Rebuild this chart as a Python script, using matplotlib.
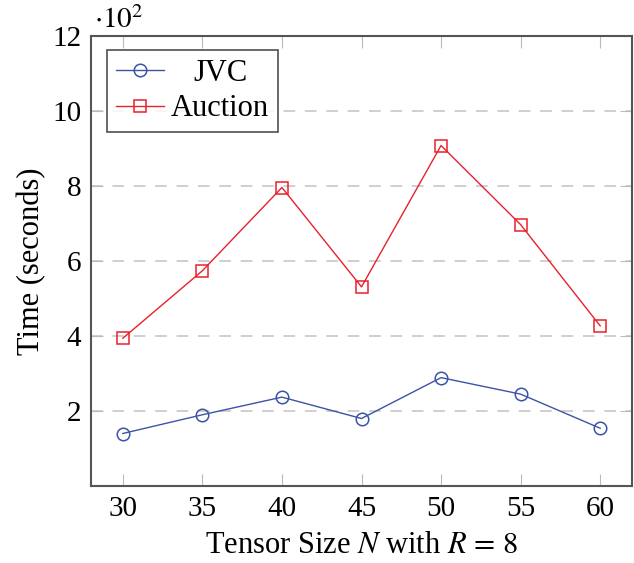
import matplotlib
matplotlib.use("Agg")
import matplotlib.pyplot as plt

plt.rcParams["font.family"] = ["Liberation Serif", "DejaVu Serif"]
plt.rcParams["mathtext.fontset"] = "stix"

# timing results, in hundreds of seconds
sizes = [30, 35, 40, 45, 50, 55, 60]
jvc = [1.40, 1.90, 2.37, 1.80, 2.89, 2.45, 1.54]
auction = [3.94, 5.74, 7.96, 5.31, 9.08, 6.97, 4.27]

blue = "#3b54a5"
red = "#e8212b"
axis_grey = "#555555"
fs = 22

fig = plt.figure(figsize=(6.34, 5.63), dpi=100)
ax = fig.add_axes([91 / 634, 1 - 486 / 563, (632 - 91) / 634, (486 - 36) / 563])

ax.plot(sizes, jvc, color=blue, lw=1.0, marker="o", ms=9,
        mfc="none", mec=blue, mew=1.1, label="JVC", zorder=3)
ax.plot(sizes, auction, color=red, lw=1.0, marker="s", ms=9,
        mfc="none", mec=red, mew=1.1, label="Auction", zorder=3)

ax.set_xlim(28, 62)
ax.set_ylim(0, 12)
ax.set_xticks(sizes)
ax.set_yticks([2, 4, 6, 8, 10, 12])

ax.yaxis.grid(True, ls=(0, (6, 5)), color="#cfcfcf", lw=1.4)
ax.set_axisbelow(True)

ax.tick_params(axis="both", direction="in", length=8.5, width=0.8,
               color="#bbbbbb", labelsize=21, top=True, right=True,
               pad=7)
for s in ax.spines.values():
    s.set_color(axis_grey)
    s.set_linewidth(1.5)

ax.text(0.005, 1.005, r"$\cdot 10^2$", transform=ax.transAxes,
        fontsize=21, ha="left", va="bottom")

ax.set_xlabel(r"Tensor Size $N$ with $R\, =\, 8$", fontsize=fs, labelpad=7)
ax.set_ylabel("Time (seconds)", fontsize=fs, labelpad=4)

leg = ax.legend(loc="upper left", fontsize=fs, frameon=True, fancybox=False,
                edgecolor="#222222", borderpad=0.28, handlelength=1.6,
                handletextpad=0.22, borderaxespad=0, labelspacing=0.22,
                bbox_to_anchor=(16 / 541, 1 - 14 / 450))
leg.get_frame().set_linewidth(1.2)

# centre the shorter legend entry in the text column
fig.canvas.draw()
r = fig.canvas.get_renderer()
widths = [t.get_window_extent(r).width for t in leg.texts]
leg.texts[0].set_x((max(widths) - widths[0]) / 2)

fig.savefig("out.png", dpi=100)
